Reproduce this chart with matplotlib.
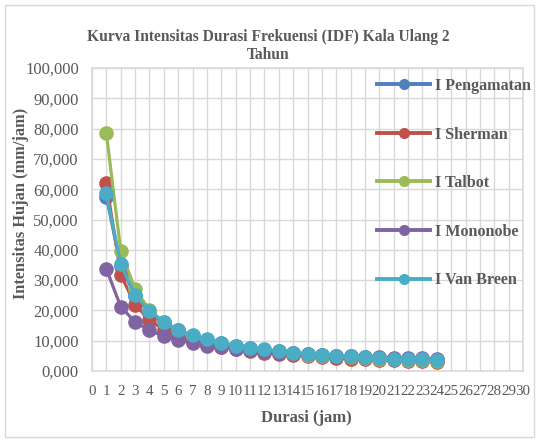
import matplotlib.pyplot as plt
from matplotlib.patches import Rectangle

plt.rcParams['font.family'] = ['Liberation Serif', 'DejaVu Serif']

# durasi (jam)
durasi = list(range(1, 25))

# intensitas hujan (mm/jam)
i_pengamatan = [57.5, 34.6, 24.8, 19.3, 15.8, 13.4, 11.6, 10.2, 9.1, 8.3, 7.6, 7.0,
                6.5, 6.0, 5.6, 5.3, 5.0, 4.8, 4.5, 4.3, 4.1, 3.9, 3.7, 3.6]
i_sherman = [62.1, 31.8, 21.9, 16.8, 13.6, 11.5, 9.9, 8.7, 7.8, 7.1, 6.5, 6.0,
             5.5, 5.2, 4.8, 4.5, 4.3, 4.1, 3.9, 3.7, 3.5, 3.4, 3.3, 3.1]
i_talbot = [78.5, 39.6, 27.0, 20.2, 16.1, 13.5, 11.6, 10.1, 9.0, 8.1, 7.4, 6.8,
            6.2, 5.8, 5.4, 5.1, 4.8, 4.5, 4.3, 4.1, 3.9, 3.7, 3.5, 3.4]
i_mononobe = [33.7, 21.2, 16.2, 13.4, 11.5, 10.2, 9.2, 8.4, 7.8, 7.3, 6.8, 6.4,
              6.1, 5.8, 5.5, 5.3, 5.1, 4.9, 4.7, 4.6, 4.4, 4.3, 4.2, 4.0]
i_vanbreen = [58.6, 35.2, 25.2, 19.7, 16.1, 13.6, 11.8, 10.4, 9.3, 8.4, 7.7, 7.1,
              6.6, 6.1, 5.7, 5.4, 5.1, 4.8, 4.6, 4.3, 4.1, 3.9, 3.8, 3.6]

series = [
    ('I Pengamatan', i_pengamatan, '#4F81BD'),
    ('I Sherman', i_sherman, '#C0504D'),
    ('I Talbot', i_talbot, '#9BBB59'),
    ('I Mononobe', i_mononobe, '#8064A2'),
    ('I Van Breen', i_vanbreen, '#4BACC6'),
]

grey = '#D9D9D9'
txt = '#595959'
W, H = 539, 441

fig = plt.figure(figsize=(W / 100, H / 100), dpi=100)
fig.patches.append(Rectangle((5 / W, 4 / H), 529 / W, 432 / H, transform=fig.transFigure,
                             fill=False, edgecolor=grey, lw=1))
ax = fig.add_axes([92 / W, 1 - 371 / H, 431 / W, 303 / H])

for name, vals, col in series:
    ax.plot(durasi, vals, color=col, lw=2.3, marker='o', ms=9.5, label=name)

ax.set_xlim(0, 30)
ax.set_ylim(0, 100)
ax.set_xticks(range(0, 31))
ax.set_yticks(range(0, 101, 10))
ax.set_yticklabels([f'{v:.3f}'.replace('.', ',') for v in range(0, 101, 10)])
ax.grid(True, color=grey, lw=1)
ax.set_axisbelow(True)
for s in ax.spines.values():
    s.set_color(grey)
    s.set_linewidth(1.2)
ax.tick_params(length=0, labelcolor=txt)
ax.tick_params(axis='x', pad=10, labelsize=10.8)
ax.tick_params(axis='y', pad=9.5, labelsize=12)

# title, axis titles placed like the Excel chart
fig.text(268 / W, 1 - 46 / H, 'Kurva Intensitas Durasi Frekuensi (IDF) Kala Ulang 2\nTahun',
         ha='center', va='center', fontsize=11.2, fontweight='bold', color=txt, linespacing=1.2)
fig.text(306 / W, 1 - 418 / H, 'Durasi (jam)', ha='center', va='center',
         fontsize=12, fontweight='bold', color=txt)
fig.text(21 / W, 1 - 203 / H, 'Intensitas Hujan (mm/jam)', ha='center', va='center',
         rotation=90, fontsize=11.8, fontweight='bold', color=txt)

leg = ax.legend(loc='upper left', bbox_to_anchor=(377 / W, 1 - 78 / H),
                bbox_transform=fig.transFigure, frameon=False, borderpad=0, borderaxespad=0,
                handlelength=3.3, labelspacing=2.02, handletextpad=0.3,
                prop={'weight': 'bold', 'size': 11.6})
for t in leg.get_texts():
    t.set_color(txt)
for h in leg.legend_handles:
    h.set_markersize(7)
    h.set_linewidth(2.8)

fig.savefig('out.png', dpi=100)
